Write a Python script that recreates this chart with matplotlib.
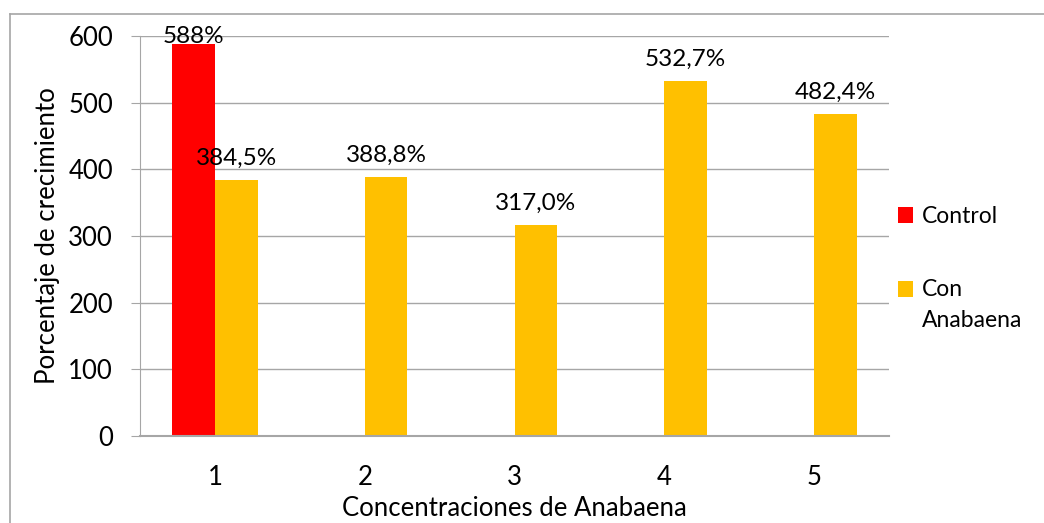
import numpy as np
import matplotlib
matplotlib.use("Agg")
import matplotlib.pyplot as plt
from matplotlib.lines import Line2D

plt.rcParams['font.family'] = ['Lato', 'DejaVu Sans']

categorias = [1, 2, 3, 4, 5]
control = [588, 0, 0, 0, 0]
con_anabaena = [384.5, 388.8, 317.0, 532.7, 482.4]
etiquetas_control = ["588%", "", "", "", ""]
etiquetas_anabaena = ["384,5%", "388,8%", "317,0%", "532,7%", "482,4%"]

rojo = "#FF0000"
naranja = "#FFC000"
gris = "#A6A6A6"

fig = plt.figure(figsize=(10.44, 5.23), dpi=100)
ax = fig.add_axes([140 / 1044, 1 - 436 / 523, 749 / 1044, 400 / 523])

x = np.array(categorias)
w = 0.285

# barras
ax.bar(x - w / 2, control, w, color=rojo, label="Control")
ax.bar(x + w / 2, con_anabaena, w, color=naranja, label="Con\nAnabaena")

# etiquetas de datos
for xi, v, t in zip(x - w / 2, control, etiquetas_control):
    if t:
        off = -2 if v > 560 else 8
        ax.annotate(t, (xi, v), xytext=(0, off), textcoords="offset points",
                    ha="center", va="bottom", fontsize=17.5)
for xi, v, t in zip(x + w / 2, con_anabaena, etiquetas_anabaena):
    ax.annotate(t, (xi, v), xytext=(0, 8), textcoords="offset points",
                ha="center", va="bottom", fontsize=17.5)

ax.set_xlim(0.5, 5.5)
ax.set_ylim(0, 600)
ax.set_yticks(range(0, 601, 100))
ax.set_xticks(categorias)
ax.grid(axis="y", color=gris, linewidth=1)
ax.set_axisbelow(True)
for s in ["top", "right"]:
    ax.spines[s].set_visible(False)
ax.spines["left"].set_color(gris)
ax.spines["bottom"].set_color(gris)
ax.spines["bottom"].set_linewidth(1.5)
ax.tick_params(axis="y", length=6.5, color=gris, labelsize=18.5, pad=13)
ax.tick_params(axis="x", length=0, labelsize=18.5, pad=21)

ax.set_xlabel("Concentraciones de Anabaena", fontsize=18.5, labelpad=4)
ax.set_ylabel("Porcentaje de crecimiento", fontsize=18.5, labelpad=6)

leg = ax.legend(loc="upper left", bbox_to_anchor=(898 / 1044, 1 - 206 / 523),
                bbox_transform=fig.transFigure, frameon=False, fontsize=16.5,
                handlelength=0.65, handleheight=0.65, handletextpad=0.4,
                labelspacing=2.25, borderpad=0, borderaxespad=0)
for t in leg.get_texts():
    t.set_linespacing(1.6)
# cuadro de color alineado con la primera linea del texto
cuadro = leg.legend_handles[1]
cuadro.set_y(cuadro.get_y() + 11.5)

# borde del grafico
fig.add_artist(Line2D([10 / 1044, 1], [1 - 14 / 523, 1 - 14 / 523],
                      transform=fig.transFigure, color=gris, linewidth=1.2))
fig.add_artist(Line2D([10 / 1044, 10 / 1044], [0, 1 - 14 / 523],
                      transform=fig.transFigure, color=gris, linewidth=1.2))

fig.savefig("out.png", dpi=100)
